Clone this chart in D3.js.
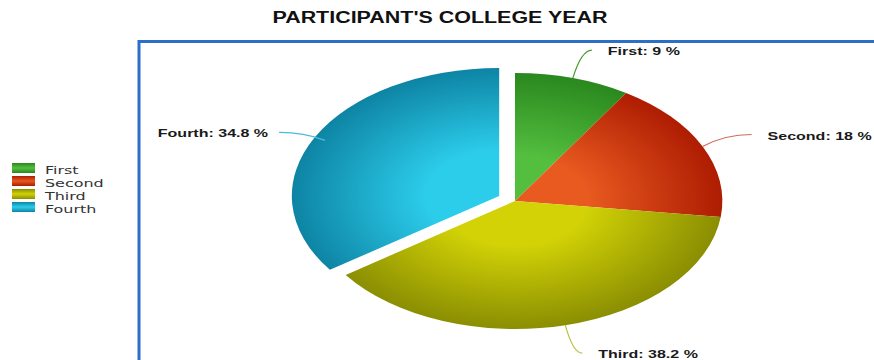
<!DOCTYPE html>
<html>
<head>
<meta charset="utf-8">
<script src="https://cdn.jsdelivr.net/npm/d3@7"></script>
<style>
  html, body { margin: 0; padding: 0; background: #ffffff; }
  svg { display: block; }
</style>
</head>
<body>
<svg id="chart" width="874" height="360"></svg>
<script>
// Participants by college year (percent)
const categories = ["First", "Second", "Third", "Fourth"];
const values = [9, 18, 38.2, 34.8];
const chartTitle = "PARTICIPANT'S COLLEGE YEAR";

// Slice shading: light centre tone and dark rim tone
const lightColors = ["#54bf3f", "#e85a20", "#d2d206", "#2ccdeb"];
const darkColors = ["#2a881e", "#ae1c02", "#8a8e02", "#0e84a4"];
const leaderColors = ["#4a9a30", "#d06a5a", "#b8c040", "#4cbcd8"];

// Layout
const W = 874, H = 360;
const cx = 515, cy = 201;      // pie centre
const R = 128;                 // vertical radius
const SX = 1.62;               // horizontal stretch of the pie
const explodeIndex = 3;        // pulled-out slice
const explodeDist = 11;
// leader end offsets from the rim point, per slice
const leaderOffsets = [[19, -28], [49, -12], [17, 28], [-46, -8]];

const svg = d3.select("#chart");
const defs = svg.append("defs");

// radial gradients for slices (follow the slice group's stretch)
categories.forEach((c, i) => {
  const g = defs.append("radialGradient")
    .attr("id", "slice-grad-" + i)
    .attr("gradientUnits", "userSpaceOnUse")
    .attr("cx", 0).attr("cy", 0).attr("r", R);
  g.append("stop").attr("offset", "0%").attr("stop-color", lightColors[i]);
  g.append("stop").attr("offset", "35%").attr("stop-color", lightColors[i]);
  g.append("stop").attr("offset", "100%").attr("stop-color", darkColors[i]);

  const s = defs.append("linearGradient")
    .attr("id", "swatch-grad-" + i)
    .attr("x1", 0).attr("y1", 0).attr("x2", 0).attr("y2", 1);
  s.append("stop").attr("offset", "0%").attr("stop-color", darkColors[i]);
  s.append("stop").attr("offset", "50%").attr("stop-color", lightColors[i]);
  s.append("stop").attr("offset", "100%").attr("stop-color", darkColors[i]);
});

// stretch a text element horizontally by a factor
function stretchText(sel, factor) {
  sel.each(function () {
    const w = this.getComputedTextLength();
    d3.select(this)
      .attr("textLength", w * factor)
      .attr("lengthAdjust", "spacingAndGlyphs");
  });
}

// Title
svg.append("text")
  .attr("x", 440).attr("y", 23)
  .attr("text-anchor", "middle")
  .style("font-family", "'Liberation Sans', Arial, sans-serif")
  .style("font-weight", "bold")
  .style("font-size", "16px")
  .attr("fill", "#111")
  .text(chartTitle)
  .call(stretchText, 1.34);

// Plot frame (left and top edges)
svg.append("path")
  .attr("d", `M139,${H + 2} V41.5 H${W + 2}`)
  .attr("fill", "none")
  .attr("stroke", "#2d6fc6")
  .attr("stroke-width", 3);

// Pie
const pie = d3.pie().sort(null).value(d => d);
const arcs = pie(values);
const arcGen = d3.arc().innerRadius(0).outerRadius(R);

function sliceOffset(d, i) {
  if (i !== explodeIndex) return [0, 0];
  const a = (d.startAngle + d.endAngle) / 2;
  return [explodeDist * Math.sin(a), -explodeDist * Math.cos(a)];
}

const pieG = svg.append("g")
  .attr("transform", `translate(${cx},${cy}) scale(${SX},1)`);

pieG.selectAll("g.slice")
  .data(arcs)
  .join("g")
  .attr("class", "slice")
  .attr("transform", (d, i) => `translate(${sliceOffset(d, i)})`)
  .append("path")
  .attr("d", arcGen)
  .attr("fill", (d, i) => `url(#slice-grad-${i})`);

// screen point on the stretched pie
function screenPoint(angle, r, off) {
  return [cx + SX * (r * Math.sin(angle) + off[0]), cy - r * Math.cos(angle) + off[1]];
}

// Leader lines and value labels
const labelG = svg.append("g");
arcs.forEach((d, i) => {
  const a = (d.startAngle + d.endAngle) / 2;
  const off = sliceOffset(d, i);
  const start = screenPoint(a, i === explodeIndex ? R - 7 : R, off);
  const end = [start[0] + leaderOffsets[i][0], start[1] + leaderOffsets[i][1]];
  const right = leaderOffsets[i][0] > 0;
  const ctrl = [start[0] + (end[0] - start[0]) * 0.45, end[1]];

  labelG.append("path")
    .attr("d", `M${start[0]},${start[1]} Q${ctrl[0]},${ctrl[1]} ${end[0]},${end[1]}`)
    .attr("fill", "none")
    .attr("stroke", leaderColors[i])
    .attr("stroke-width", 1.2);

  labelG.append("text")
    .attr("x", right ? end[0] + 16 : end[0] - 11)
    .attr("y", end[1] + 5)
    .attr("text-anchor", right ? "start" : "end")
    .style("font-family", "'Liberation Sans', Arial, sans-serif")
    .style("font-weight", "bold")
    .style("font-size", "10px")
    .attr("fill", "#1a1a1a")
    .text(`${categories[i]}: ${d.data} %`)
    .call(stretchText, 1.6);
});

// Legend
const legend = svg.append("g");
categories.forEach((c, i) => {
  const base = 174 + i * 13;
  legend.append("rect")
    .attr("x", 12).attr("y", base - 11)
    .attr("width", 23).attr("height", 10)
    .attr("fill", `url(#swatch-grad-${i})`);
  legend.append("text")
    .attr("x", 45).attr("y", base)
    .style("font-family", "'DejaVu Sans', sans-serif")
    .style("font-size", "11px")
    .attr("fill", "#333")
    .text(c)
    .call(stretchText, 1.45);
});
</script>
</body>
</html>
